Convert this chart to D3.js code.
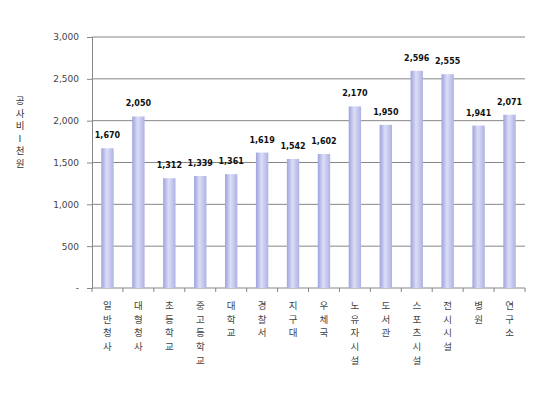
<!DOCTYPE html>
<html>
<head>
<meta charset="utf-8">
<script src="https://cdn.jsdelivr.net/npm/d3@7"></script>
<style>
  body { margin: 0; background: #fff; }
  text { font-family: "Noto Sans CJK KR", "DejaVu Sans", sans-serif; }
</style>
</head>
<body>
<div id="chart"></div>
<script>
// chart data
const categories = ["일반청사", "대형청사", "초등학교", "중고등학교", "대학교", "경찰서", "지구대",
    "우체국", "노유자시설", "도서관", "스포츠시설", "전시시설", "병원", "연구소"];
const costs = [1670, 2050, 1312, 1339, 1361, 1619, 1542, 1602, 2170, 1950, 2596, 2555, 1941, 2071];
const yTicks = [0, 500, 1000, 1500, 2000, 2500, 3000];
const yTitle = "공사비I천원";

const width = 550, height = 393;
const margin = {top: 37, right: 25, bottom: 105, left: 92};

const svg = d3.select("#chart").append("svg")
    .attr("width", width)
    .attr("height", height);

const defs = svg.append("defs");
const grad = defs.append("linearGradient").attr("id", "barGrad")
    .attr("x1", "0%").attr("x2", "100%").attr("y1", "0%").attr("y2", "0%");
grad.append("stop").attr("offset", "0%").attr("stop-color", "#9da2de");
grad.append("stop").attr("offset", "45%").attr("stop-color", "#dcdef6");
grad.append("stop").attr("offset", "100%").attr("stop-color", "#aeb2e4");

const x = d3.scaleBand()
    .domain(categories)
    .range([margin.left, width - margin.right])
    .paddingInner(0.6)
    .paddingOuter(0.3);

const y = d3.scaleLinear()
    .domain([0, 3000])
    .range([height - margin.bottom, margin.top]);

// gridlines
svg.append("g")
    .selectAll("line")
    .data(yTicks.filter(d => d > 0))
    .join("line")
    .attr("x1", margin.left)
    .attr("x2", width - margin.right)
    .attr("y1", d => y(d))
    .attr("y2", d => y(d))
    .attr("stroke", "#868686")
    .attr("stroke-width", 1);

// y axis
const yAxis = svg.append("g")
    .attr("transform", `translate(${margin.left},0)`)
    .call(d3.axisLeft(y).tickValues(yTicks).tickSize(5).tickPadding(8)
        .tickFormat(d => d === 0 ? "-" : d3.format(",")(d)));
yAxis.select(".domain").attr("stroke", "#868686");
yAxis.selectAll(".tick line").attr("stroke", "#868686");
yAxis.selectAll("text").attr("fill", "#444").style("font-size", "9px")
    .style("font-family", "'DejaVu Sans', sans-serif");

// x axis baseline with ticks between categories
const base = y(0);
const plotW = width - margin.left - margin.right;
svg.append("line")
    .attr("x1", margin.left).attr("x2", width - margin.right)
    .attr("y1", base).attr("y2", base)
    .attr("stroke", "#868686");
svg.append("g")
    .selectAll("line")
    .data(d3.range(categories.length + 1))
    .join("line")
    .attr("x1", i => margin.left + i * plotW / categories.length)
    .attr("x2", i => margin.left + i * plotW / categories.length)
    .attr("y1", base).attr("y2", base + 4)
    .attr("stroke", "#868686");

// bars
svg.append("g")
    .selectAll("rect")
    .data(costs)
    .join("rect")
    .attr("x", (d, i) => x(categories[i]))
    .attr("y", d => y(d))
    .attr("width", x.bandwidth())
    .attr("height", d => y(0) - y(d))
    .attr("fill", "url(#barGrad)");

// value labels
svg.append("g")
    .selectAll("text")
    .data(costs)
    .join("text")
    .attr("x", (d, i) => x(categories[i]) + x.bandwidth() / 2)
    .attr("y", d => y(d) - 10)
    .attr("text-anchor", "middle")
    .attr("fill", "#111")
    .style("font-size", "8px")
    .style("font-weight", "bold")
    .style("font-family", "'DejaVu Sans', sans-serif")
    .text(d => d3.format(",")(d));

// category labels, stacked vertically
const catG = svg.append("g")
    .selectAll("text")
    .data(categories)
    .join("text")
    .attr("x", d => x(d) + x.bandwidth() / 2)
    .attr("y", base + 21)
    .attr("text-anchor", "middle")
    .attr("fill", "#444")
    .style("font-size", "9.5px");
catG.selectAll("tspan")
    .data(d => Array.from(d))
    .join("tspan")
    .attr("x", function() { return this.parentNode.getAttribute("x"); })
    .attr("dy", (c, i) => i === 0 ? 0 : 13.7)
    .text(c => c);

// y axis title, stacked vertically
svg.append("text")
    .attr("x", 20)
    .attr("y", 104)
    .attr("text-anchor", "middle")
    .attr("fill", "#333")
    .style("font-size", "9.5px")
    .selectAll("tspan")
    .data(Array.from(yTitle))
    .join("tspan")
    .attr("x", 20)
    .attr("dy", (c, i) => i === 0 ? 0 : 12.5)
    .text(c => c);
</script>
</body>
</html>
